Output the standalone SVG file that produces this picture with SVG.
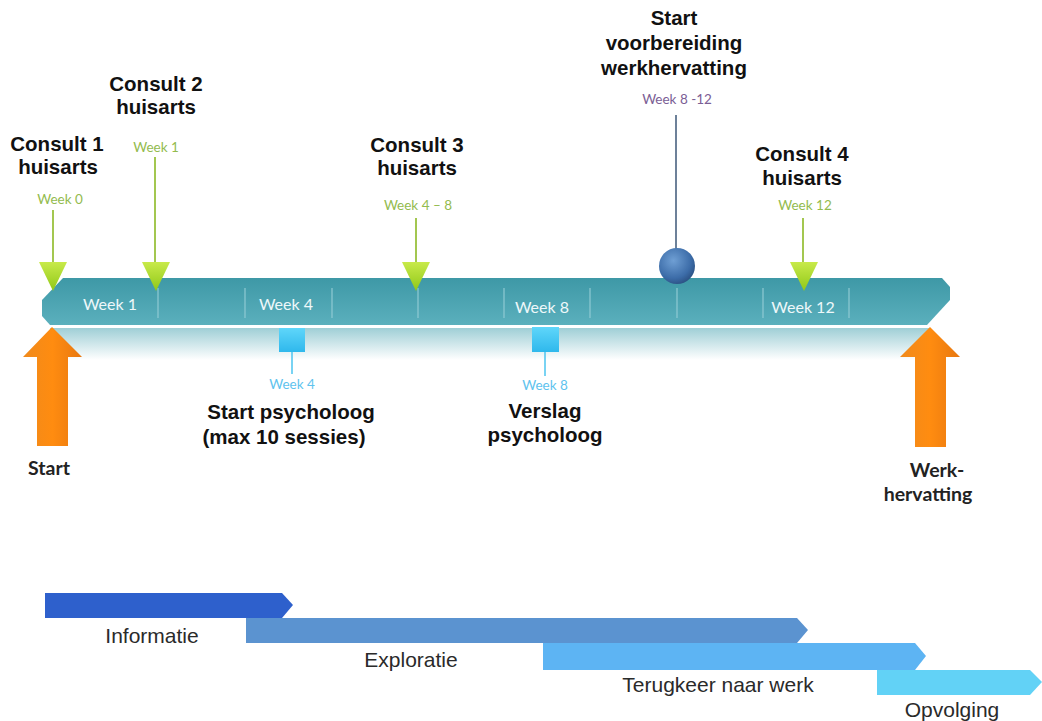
<svg xmlns="http://www.w3.org/2000/svg" width="1042" height="721" viewBox="0 0 1042 721">
<style>
.lbl{font-family:"Liberation Sans",Arial,sans-serif;font-weight:bold;font-size:20.5px;fill:#111;text-anchor:middle}
.sm{font-family:Lato,"Open Sans",sans-serif;font-size:13.5px;text-anchor:middle}
.g{fill:#93bb4e}
.wk{font-family:Lato,"Open Sans",sans-serif;font-size:16px;fill:#eef8fa;text-anchor:middle}
.div{stroke:#8fcad3;stroke-width:1.2}
.gl{stroke:#a3c750;stroke-width:2}
.ph{font-family:"Liberation Sans",Arial,sans-serif;font-size:21px;fill:#2a2a2a;text-anchor:middle}
.cal{font-family:Lato,"Open Sans",sans-serif;font-weight:bold;font-size:19.5px;fill:#222;text-anchor:middle}
</style>
<defs>
<linearGradient id="bar" x1="0" y1="0" x2="0" y2="1">
<stop offset="0" stop-color="#3e98a6"/><stop offset="1" stop-color="#5bb0bd"/>
</linearGradient>
<linearGradient id="refl" x1="0" y1="0" x2="0" y2="1">
<stop offset="0" stop-color="#9fcfd6"/><stop offset="1" stop-color="#ffffff"/>
</linearGradient>
<linearGradient id="tri" x1="0" y1="0" x2="0" y2="1">
<stop offset="0" stop-color="#c8ea4a"/><stop offset="1" stop-color="#90c818"/>
</linearGradient>
<linearGradient id="org" x1="0" y1="0" x2="1" y2="0">
<stop offset="0" stop-color="#f08a1c"/><stop offset="0.5" stop-color="#ff8c10"/><stop offset="1" stop-color="#e87810"/>
</linearGradient>
<radialGradient id="ball" cx="0.4" cy="0.35" r="0.7">
<stop offset="0" stop-color="#6f9fd4"/><stop offset="0.7" stop-color="#3c6ca8"/><stop offset="1" stop-color="#2a4f80"/>
</radialGradient>
<linearGradient id="sq" x1="0" y1="0" x2="0" y2="1">
<stop offset="0" stop-color="#5fd6fa"/><stop offset="1" stop-color="#2fb8ec"/>
</linearGradient>
<polygon id="gtri" points="-14,0 14,0 0,29"/>
</defs>
<rect width="1042" height="721" fill="#fff"/>

<g id="timeline">
<rect x="50" y="328" width="880" height="32" fill="url(#refl)"/>
<polygon points="63,278 942,278 950,287 950,300 927,325 50,325 42,316 42,300" fill="url(#bar)"/>
<g>
<line class="div" x1="158" y1="288" x2="158" y2="318"/>
<line class="div" x1="245" y1="288" x2="245" y2="318"/>
<line class="div" x1="332" y1="288" x2="332" y2="318"/>
<line class="div" x1="418" y1="288" x2="418" y2="318"/>
<line class="div" x1="504" y1="288" x2="504" y2="318"/>
<line class="div" x1="590" y1="288" x2="590" y2="318"/>
<line class="div" x1="677" y1="288" x2="677" y2="318"/>
<line class="div" x1="763" y1="288" x2="763" y2="318"/>
<line class="div" x1="849" y1="288" x2="849" y2="318"/>
</g>
<text class="wk" x="110" y="310">Week 1</text>
<text class="wk" x="286" y="310">Week 4</text>
<text class="wk" x="542" y="313">Week 8</text>
<text class="wk" x="803" y="313">Week 12</text>
</g>

<g id="connectors">
<line class="gl" x1="53" y1="210" x2="53" y2="263"/>
<line class="gl" x1="155" y1="157" x2="155" y2="263"/>
<line class="gl" x1="416" y1="218" x2="416" y2="263"/>
<line class="gl" x1="803" y1="218" x2="803" y2="263"/>
<line x1="676" y1="115" x2="676" y2="256" stroke="#6d8199" stroke-width="2"/>
<line x1="292" y1="350" x2="292" y2="374" stroke="#4cc4ef" stroke-width="1.5"/>
<line x1="545" y1="350" x2="545" y2="376" stroke="#4cc4ef" stroke-width="1.5"/>
</g>

<g id="consult1">
<text class="lbl" x="57" y="151">Consult 1</text>
<text class="lbl" x="58" y="174">huisarts</text>
<text class="sm g" x="60" y="204">Week 0</text>
<use href="#gtri" x="53" y="262" fill="url(#tri)"/>
</g>
<g id="consult2">
<text class="lbl" x="156" y="91">Consult 2</text>
<text class="lbl" x="156" y="114">huisarts</text>
<text class="sm g" x="156" y="152">Week 1</text>
<use href="#gtri" x="156" y="262" fill="url(#tri)"/>
</g>
<g id="consult3">
<text class="lbl" x="417" y="152">Consult 3</text>
<text class="lbl" x="417" y="175">huisarts</text>
<text class="sm g" x="418" y="210">Week 4 – 8</text>
<use href="#gtri" x="416" y="262" fill="url(#tri)"/>
</g>
<g id="consult4">
<text class="lbl" x="802" y="161">Consult 4</text>
<text class="lbl" x="802" y="185">huisarts</text>
<text class="sm g" x="805" y="210">Week 12</text>
<use href="#gtri" x="804" y="262" fill="url(#tri)"/>
</g>
<g id="voorbereiding">
<text class="lbl" x="674" y="25">Start</text>
<text class="lbl" x="674" y="50">voorbereiding</text>
<text class="lbl" x="674" y="75">werkhervatting</text>
<text class="sm" x="677" y="104" fill="#7b5e95">Week 8 -12</text>
<circle cx="677" cy="266" r="18" fill="url(#ball)"/>
</g>
<g id="psycholoog-start">
<rect x="279" y="328" width="26" height="24" fill="url(#sq)"/>
<text class="sm" x="292" y="389" fill="#5ec3ee">Week 4</text>
<text class="lbl" x="291" y="419">Start psycholoog</text>
<text class="lbl" x="284" y="444">(max 10 sessies)</text>
</g>
<g id="psycholoog-verslag">
<rect x="532" y="327" width="27" height="25" fill="url(#sq)"/>
<text class="sm" x="545" y="390" fill="#5ec3ee">Week 8</text>
<text class="lbl" x="545" y="418">Verslag</text>
<text class="lbl" x="545" y="442">psycholoog</text>
</g>
<g id="start">
<polygon points="52,327 82,357 68,357 68,446 37,446 37,357 23,357" fill="url(#org)"/>
<text class="cal" x="49" y="475">Start</text>
</g>
<g id="werkhervatting">
<polygon points="930,327 960,357 946,357 946,447 915,447 915,357 900,357" fill="url(#org)"/>
<text class="cal" x="937" y="477">Werk-</text>
<text class="cal" x="928" y="501">hervatting</text>
</g>

<g id="informatie">
<polygon points="45,593 282,593 293,605 282,618 45,618" fill="#2e60cc"/>
<text class="ph" x="152" y="643">Informatie</text>
</g>
<g id="exploratie">
<polygon points="246,618 797,618 808,630 797,643 246,643" fill="#5b93d0"/>
<text class="ph" x="411" y="667">Exploratie</text>
</g>
<g id="terugkeer">
<polygon points="543,643 915,643 926,656 915,670 543,670" fill="#5db4f3"/>
<text class="ph" x="718" y="692">Terugkeer naar werk</text>
</g>
<g id="opvolging">
<polygon points="877,670 1030,670 1042,682 1030,695 877,695" fill="#62d2f6"/>
<text class="ph" x="952" y="717">Opvolging</text>
</g>
</svg>
